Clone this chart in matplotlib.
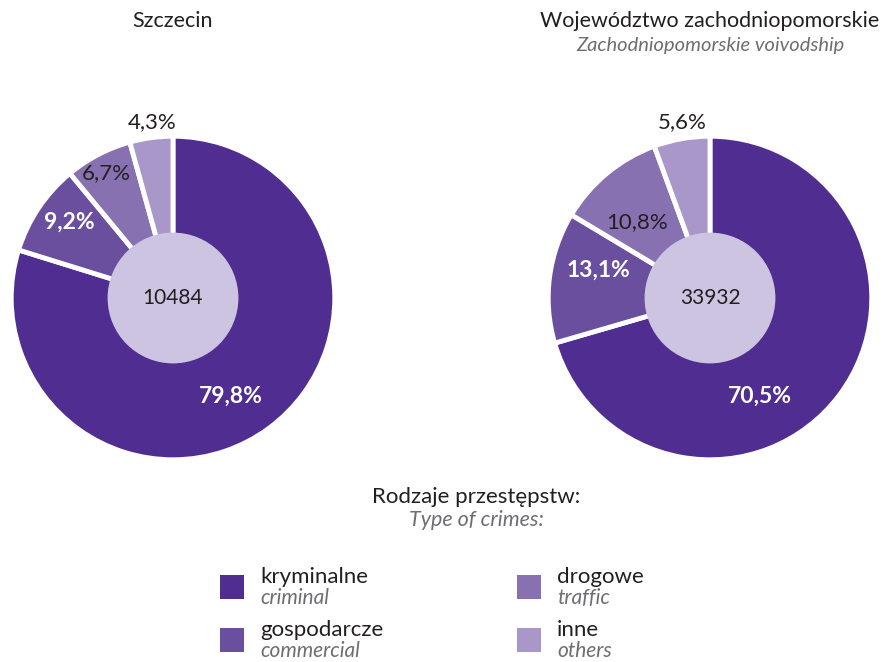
import matplotlib.pyplot as plt
from matplotlib.patches import Circle, Rectangle

plt.rcParams['font.family'] = ['Lato', 'DejaVu Sans']

W, H = 885, 662

categories_pl = ['kryminalne', 'gospodarcze', 'drogowe', 'inne']
categories_en = ['criminal', 'commercial', 'traffic', 'others']
colors = ['#502d91', '#6a4f9f', '#8771b1', '#a997c9']

szczecin = [79.8, 9.2, 6.7, 4.3]
voivodship = [70.5, 13.1, 10.8, 5.6]
szczecin_labels = ['79,8%', '9,2%', '6,7%', '4,3%']
voivodship_labels = ['70,5%', '13,1%', '10,8%', '5,6%']
totals = ['10484', '33932']

# label spots inside each pie (data units, radius = 1)
szczecin_pos = [(0.36, -0.61), (-0.64, 0.47), (-0.41, 0.77), (-0.13, 1.09)]
voivodship_pos = [(0.31, -0.61), (-0.69, 0.17), (-0.45, 0.47), (-0.17, 1.09)]
label_style = [('white', 'bold'), ('white', 'bold'), ('#231f20', 'normal'), ('#231f20', 'normal')]


def px(x, y):
    return x / W, 1 - y / H


fig = plt.figure(figsize=(W / 100, H / 100), dpi=100)


def donut(cx, cy, r, values, labels, pos, total):
    ax = fig.add_axes([(cx - r) / W, (H - cy - r) / H, 2 * r / W, 2 * r / H])
    ax.pie(values, colors=colors, startangle=90, counterclock=False, radius=1,
           wedgeprops=dict(edgecolor='white', linewidth=3.5))
    ax.add_patch(Circle((0, 0), 0.40, color='#cdc4e1', zorder=5))
    ax.text(0, 0, total, ha='center', va='center', fontsize=15, color='#231f20', zorder=6)
    for lab, (x, y), (c, w) in zip(labels, pos, label_style):
        fs = 16.5 if w == 'bold' else 16
        ax.text(x, y, lab, ha='center', va='center', fontsize=fs, color=c, fontweight=w)
    ax.set_xlim(-1.02, 1.02)
    ax.set_ylim(-1.02, 1.02)
    ax.set_aspect('equal')
    ax.axis('off')


donut(173, 298, 165, szczecin, szczecin_labels, szczecin_pos, totals[0])
donut(710, 298, 165, voivodship, voivodship_labels, voivodship_pos, totals[1])

fig.text(*px(173, 21), 'Szczecin', ha='center', va='center', fontsize=15.5, color='#231f20')
fig.text(*px(710, 21), 'Województwo zachodniopomorskie', ha='center', va='center',
         fontsize=15.5, color='#231f20')
fig.text(*px(710, 46), 'Zachodniopomorskie voivodship', ha='center', va='center',
         fontsize=14.5, color='#6d6e71', style='italic')

fig.text(*px(476, 497), 'Rodzaje przestępstw:', ha='center', va='center', fontsize=16, color='#231f20')
fig.text(*px(476, 520), 'Type of crimes:', ha='center', va='center', fontsize=15.5,
         color='#6d6e71', style='italic')

legend_xy = [(220, 575), (220, 628), (517, 575), (517, 628)]
for (x, y), c, pl, en in zip(legend_xy, colors, categories_pl, categories_en):
    fx, fy = px(x, y + 24)
    fig.add_artist(Rectangle((fx, fy), 24 / W, 24 / H, transform=fig.transFigure,
                             facecolor=c, edgecolor='none'))
    fig.text(*px(x + 40, y + 2), pl, ha='left', va='center', fontsize=16, color='#231f20')
    fig.text(*px(x + 40, y + 23), en, ha='left', va='center', fontsize=15,
             color='#6d6e71', style='italic')

fig.savefig('out.png', dpi=100)
